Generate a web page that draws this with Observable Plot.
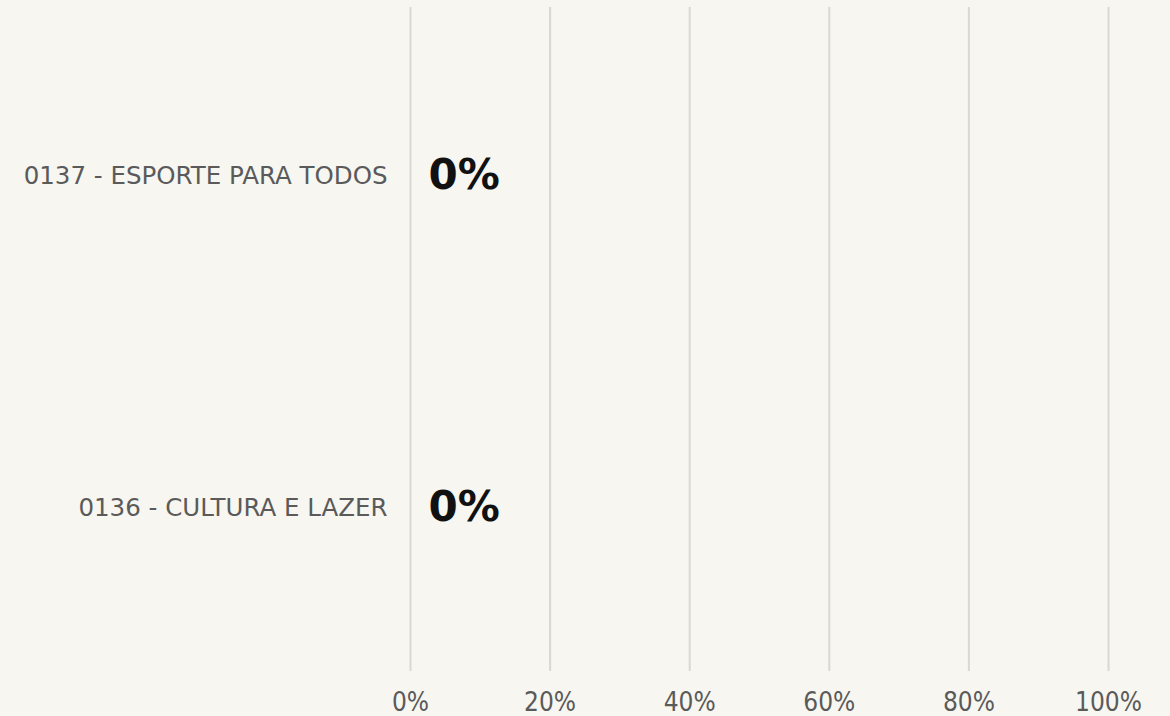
<!DOCTYPE html>
<html>
<head>
<meta charset="utf-8">
<script src="https://cdn.jsdelivr.net/npm/d3@7"></script>
<script src="https://cdn.jsdelivr.net/npm/@observablehq/plot@0.6"></script>
<style>
  html, body { margin: 0; padding: 0; background: #f7f6f0; }
  #chart svg { display: block; }
</style>
</head>
<body>
<div id="chart"></div>
<script>
const categories = ["0137 - ESPORTE PARA TODOS", "0136 - CULTURA E LAZER"];
const values = [0, 0];
const xTicks = [0, 0.2, 0.4, 0.6, 0.8, 1];

const data = categories.map((c, i) => ({category: c, value: values[i]}));

const chart = Plot.plot({
  width: 1170,
  height: 716,
  marginLeft: 410,
  marginRight: 62,
  marginTop: 7,
  marginBottom: 45,
  style: {background: "#f7f6f0", fontFamily: "DejaVu Sans, Verdana, sans-serif"},
  x: {domain: [0, 1], ticks: xTicks, tickFormat: d => Math.round(d * 100) + "%", label: null},
  y: {domain: categories, label: null, padding: 0},
  marks: [
    Plot.gridX(xTicks, {stroke: "#d9d8d3", strokeOpacity: 1, strokeWidth: 2}),
    Plot.axisX(xTicks, {tickSize: 0, tickPadding: 0, fontSize: 26, fill: "#5a5a5a", fontFamily: "DejaVu Sans Condensed, DejaVu Sans, sans-serif", tickFormat: d => Math.round(d * 100) + "%", label: null, dy: 21}),
    Plot.axisY({tickSize: 0, tickPadding: 23, fontSize: 24.5, fill: "#5a5a5a", label: null, dy: 2.5}),
    Plot.barX(data, {x: "value", y: "category", fill: "#3a6ea5"}),
    Plot.text(data, {x: "value", y: "category", text: d => Math.round(d.value * 100) + "%", textAnchor: "start", dx: 18, dy: 2, fontSize: 42, fontWeight: "bold", fill: "#111"})
  ]
});
document.getElementById("chart").appendChild(chart);
</script>
</body>
</html>
